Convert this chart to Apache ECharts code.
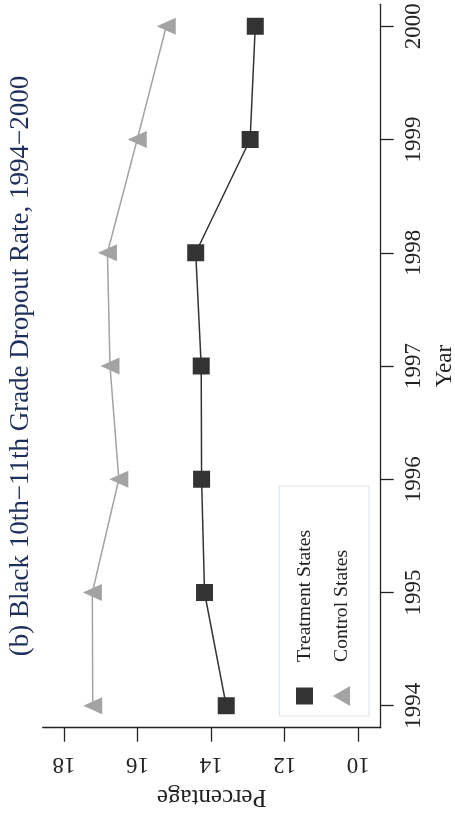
<!DOCTYPE html>
<html>
<head>
<meta charset="utf-8">
<style>
  html, body { margin: 0; padding: 0; background: #ffffff; }
  #chart { width: 455px; height: 818px; }
</style>
<script src="https://cdn.jsdelivr.net/npm/echarts@6/dist/echarts.min.js"></script>
</head>
<body>
<div id="chart"></div>
<script>
// Survey years and dropout rates (percent) for Black 10th–11th graders
const years = [1994, 1995, 1996, 1997, 1998, 1999, 2000];
const treatmentStates = [13.59, 14.18, 14.26, 14.27, 14.42, 12.94, 12.80];
const controlStates = [17.22, 17.23, 16.51, 16.75, 16.82, 16.01, 15.22];
const percentTicks = [10, 12, 14, 16, 18];
const yearTicks = [1994, 1995, 1996, 1997, 1998, 1999, 2000];

const titleText = '(b) Black 10th\u221211th Grade Dropout Rate, 1994\u22122000';
const serif = '"Liberation Serif", "DejaVu Serif", serif';
const ink = '#222222';

const chart = echarts.init(document.getElementById('chart'), null, { renderer: 'canvas' });

const pairs = (vals) => vals.map((v, i) => [v, years[i]]);

chart.setOption({
  animation: false,
  backgroundColor: '#ffffff',
  grid: {
    left: 42.7, right: 74.3, top: 4.3, bottom: 90.3,
    containLabel: false,
    outerBoundsMode: 'none'
  },
  xAxis: {
    type: 'value',
    inverse: true,
    min: 9.39,
    max: 18.58,
    position: 'bottom',
    name: 'Percentage',
    nameLocation: 'middle',
    nameRotate: 180,
    nameGap: 56,
    nameTextStyle: { fontFamily: serif, fontSize: 25, color: ink },
    axisLine: { show: true, lineStyle: { color: ink, width: 1.3 } },
    axisTick: { show: true, length: 14, customValues: percentTicks, lineStyle: { color: ink, width: 1.3 } },
    axisLabel: {
      customValues: percentTicks,
      rotate: 180,
      margin: 25,
      fontFamily: serif,
      fontSize: 23,
      color: ink,
      formatter: (v) => String(v)
    },
    splitLine: { show: false }
  },
  yAxis: {
    type: 'value',
    min: 1993.806,
    max: 2000.194,
    position: 'right',
    name: 'Year',
    nameLocation: 'middle',
    nameRotate: 90,
    nameGap: 52,
    nameTextStyle: { fontFamily: serif, fontSize: 23, color: ink },
    axisLine: { show: true, lineStyle: { color: ink, width: 1.3 } },
    axisTick: { show: true, length: 13, customValues: yearTicks, lineStyle: { color: ink, width: 1.3 } },
    axisLabel: {
      customValues: yearTicks,
      rotate: 90,
      margin: 22,
      fontFamily: serif,
      fontSize: 23,
      color: ink,
      formatter: (v) => String(v)
    },
    splitLine: { show: false }
  },
  series: [
    {
      name: 'Treatment States',
      type: 'line',
      data: pairs(treatmentStates),
      symbol: 'rect',
      symbolSize: 17,
      itemStyle: { color: '#333333' },
      lineStyle: { color: '#333333', width: 1.5 },
      z: 3
    },
    {
      name: 'Control States',
      type: 'line',
      data: pairs(controlStates),
      symbol: 'triangle',
      symbolSize: [17, 19],
      symbolRotate: 90,
      itemStyle: { color: '#a3a3a3' },
      lineStyle: { color: '#a3a3a3', width: 1.5 },
      z: 2
    }
  ],
  graphic: [
    {
      type: 'text',
      x: 21,
      y: 366,
      rotation: Math.PI / 2,
      style: {
        text: titleText,
        fontFamily: serif,
        fontSize: 27,
        fill: '#1f2f5c',
        textAlign: 'center',
        textVerticalAlign: 'middle'
      }
    },
    {
      type: 'rect',
      shape: { x: 279.3, y: 486, width: 89.7, height: 230 },
      style: { fill: '#ffffff', stroke: '#dce8ee', lineWidth: 1.2 },
      z: 10
    },
    {
      type: 'rect',
      shape: { x: 296, y: 687.5, width: 17, height: 17 },
      style: { fill: '#333333' },
      z: 11
    },
    {
      type: 'polygon',
      shape: { points: [[333, 696], [350, 686], [350, 706]] },
      style: { fill: '#a3a3a3' },
      z: 11
    },
    {
      type: 'text',
      x: 305,
      y: 662,
      rotation: Math.PI / 2,
      style: {
        text: 'Treatment States',
        fontFamily: serif,
        fontSize: 19.7,
        fill: ink,
        textAlign: 'left',
        textVerticalAlign: 'middle'
      },
      z: 11
    },
    {
      type: 'text',
      x: 342,
      y: 662,
      rotation: Math.PI / 2,
      style: {
        text: 'Control States',
        fontFamily: serif,
        fontSize: 19.7,
        fill: ink,
        textAlign: 'left',
        textVerticalAlign: 'middle'
      },
      z: 11
    }
  ]
});
</script>
</body>
</html>
